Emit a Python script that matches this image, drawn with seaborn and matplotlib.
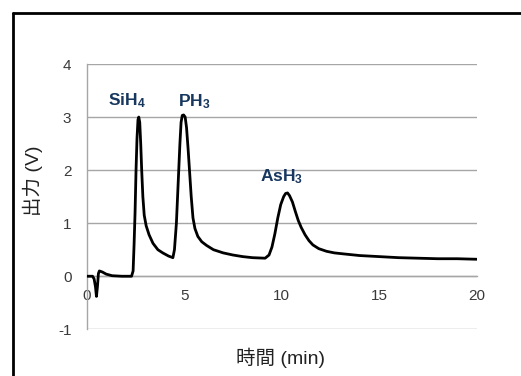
import matplotlib
matplotlib.use("Agg")
import matplotlib.pyplot as plt
import seaborn as sns
import pandas as pd
from matplotlib.lines import Line2D

time_min = [0, 0.3, 0.38, 0.45, 0.5, 0.55, 0.6, 0.65, 0.8, 1.0, 1.3, 1.8, 2.3, 2.38, 2.43, 2.48,
            2.53, 2.58, 2.63, 2.67, 2.72, 2.77, 2.82, 2.88, 2.95, 3.05, 3.2, 3.4, 3.65, 3.9, 4.2,
            4.42, 4.5, 4.55, 4.6, 4.66, 4.72, 4.78, 4.84, 4.9, 4.97, 5.05, 5.12, 5.2, 5.28, 5.36,
            5.45, 5.55, 5.7, 5.9, 6.15, 6.5, 7.0, 7.5, 8.0, 8.5, 9.15, 9.35, 9.5, 9.65, 9.8, 9.95,
            10.1, 10.2, 10.3, 10.4, 10.55, 10.7, 10.85, 11.0, 11.2, 11.4, 11.6, 11.9, 12.3, 12.7,
            13.2, 14.0, 15.0, 16.0, 17.0, 18.0, 19.0, 20.0]
output_v = [0.0, 0.0, -0.05, -0.2, -0.38, -0.2, 0.05, 0.1, 0.08, 0.04, 0.01, 0.0, 0.0, 0.1, 0.6, 1.2,
            2.0, 2.6, 2.95, 3.0, 2.9, 2.5, 2.0, 1.5, 1.15, 0.95, 0.78, 0.62, 0.5, 0.44, 0.38,
            0.35, 0.5, 0.75, 1.0, 1.5, 2.0, 2.5, 2.9, 3.03, 3.04, 3.0, 2.8, 2.4, 1.95, 1.5,
            1.1, 0.9, 0.75, 0.65, 0.58, 0.5, 0.44, 0.4, 0.37, 0.35, 0.34, 0.4, 0.55, 0.8, 1.1, 1.35,
            1.5, 1.56, 1.57, 1.52, 1.4, 1.22, 1.05, 0.92, 0.78, 0.67, 0.59, 0.52, 0.47, 0.44,
            0.42, 0.39, 0.37, 0.35, 0.34, 0.33, 0.33, 0.32]

peak_labels = ["SiH$_4$", "PH$_3$", "AsH$_3$"]
peak_x = [1.09, 4.68, 8.89]
peak_y = [3.23, 3.21, 1.79]

x_ticks = [0, 5, 10, 15, 20]
y_ticks = [-1, 0, 1, 2, 3, 4]
x_label = "時間 (min)"
y_label = "出力 (V)"

sns.set_style("white")
plt.rcParams["font.family"] = ["Liberation Sans", "Noto Sans CJK JP", "DejaVu Sans"]
plt.rcParams["mathtext.fontset"] = "custom"
plt.rcParams["mathtext.rm"] = "Liberation Sans:bold"
plt.rcParams["mathtext.bf"] = "Liberation Sans:bold"
plt.rcParams["mathtext.default"] = "bf"

W, H = 521, 376
fig = plt.figure(figsize=(W / 100, H / 100), dpi=100)
ax = fig.add_axes([86.7 / W, 1 - 329.3 / H, 390 / W, 265.3 / H])

df = pd.DataFrame({"t": time_min, "v": output_v})
sns.lineplot(data=df, x="t", y="v", ax=ax, color="black", linewidth=2, zorder=5)

ax.set_xlim(0, 20)
ax.set_ylim(-1, 4)
ax.set_xticks(x_ticks)
ax.set_yticks(y_ticks)
ax.set_xticklabels([str(v) for v in x_ticks])
ax.set_yticklabels([str(v) for v in y_ticks])
grid_c = "#A6A6A6"
for yv in y_ticks:
    ax.axhline(yv, color=grid_c, linewidth=1, zorder=1)
for s in ["top", "right"]:
    ax.spines[s].set_visible(False)
ax.spines["bottom"].set_position(("data", 0))
ax.spines["bottom"].set_color(grid_c)
ax.spines["left"].set_color(grid_c)
ax.spines["bottom"].set_linewidth(1)
ax.spines["left"].set_linewidth(1)
ax.tick_params(axis="both", which="both", length=4, width=1, color=grid_c,
               labelsize=11, labelcolor="#3A3A3A", direction="out")
ax.tick_params(axis="y", pad=7)
ax.tick_params(axis="x", pad=5)
ax.set_xlabel("")
ax.set_ylabel("")

fig.text(281 / W, 1 - 358 / H, x_label, ha="center", va="center", fontsize=14, color="#222222")
fig.text(33 / W, 1 - 181 / H, y_label, ha="center", va="center", rotation=90,
         fontsize=14, color="#222222")

for lab, px, py in zip(peak_labels, peak_x, peak_y):
    ax.text(px, py, lab, ha="left", va="baseline", fontsize=12.5, fontweight="bold",
            color="#17375E", zorder=6)

# outer frame (right and bottom edges lie outside the image)
fig.add_artist(Line2D([13 / W, 13 / W], [1 - 13 / H, -0.05], transform=fig.transFigure,
                      color="black", linewidth=2))
fig.add_artist(Line2D([13 / W, 1.05], [1 - 13 / H, 1 - 13 / H], transform=fig.transFigure,
                      color="black", linewidth=2))

fig.savefig("out.png", dpi=100)
